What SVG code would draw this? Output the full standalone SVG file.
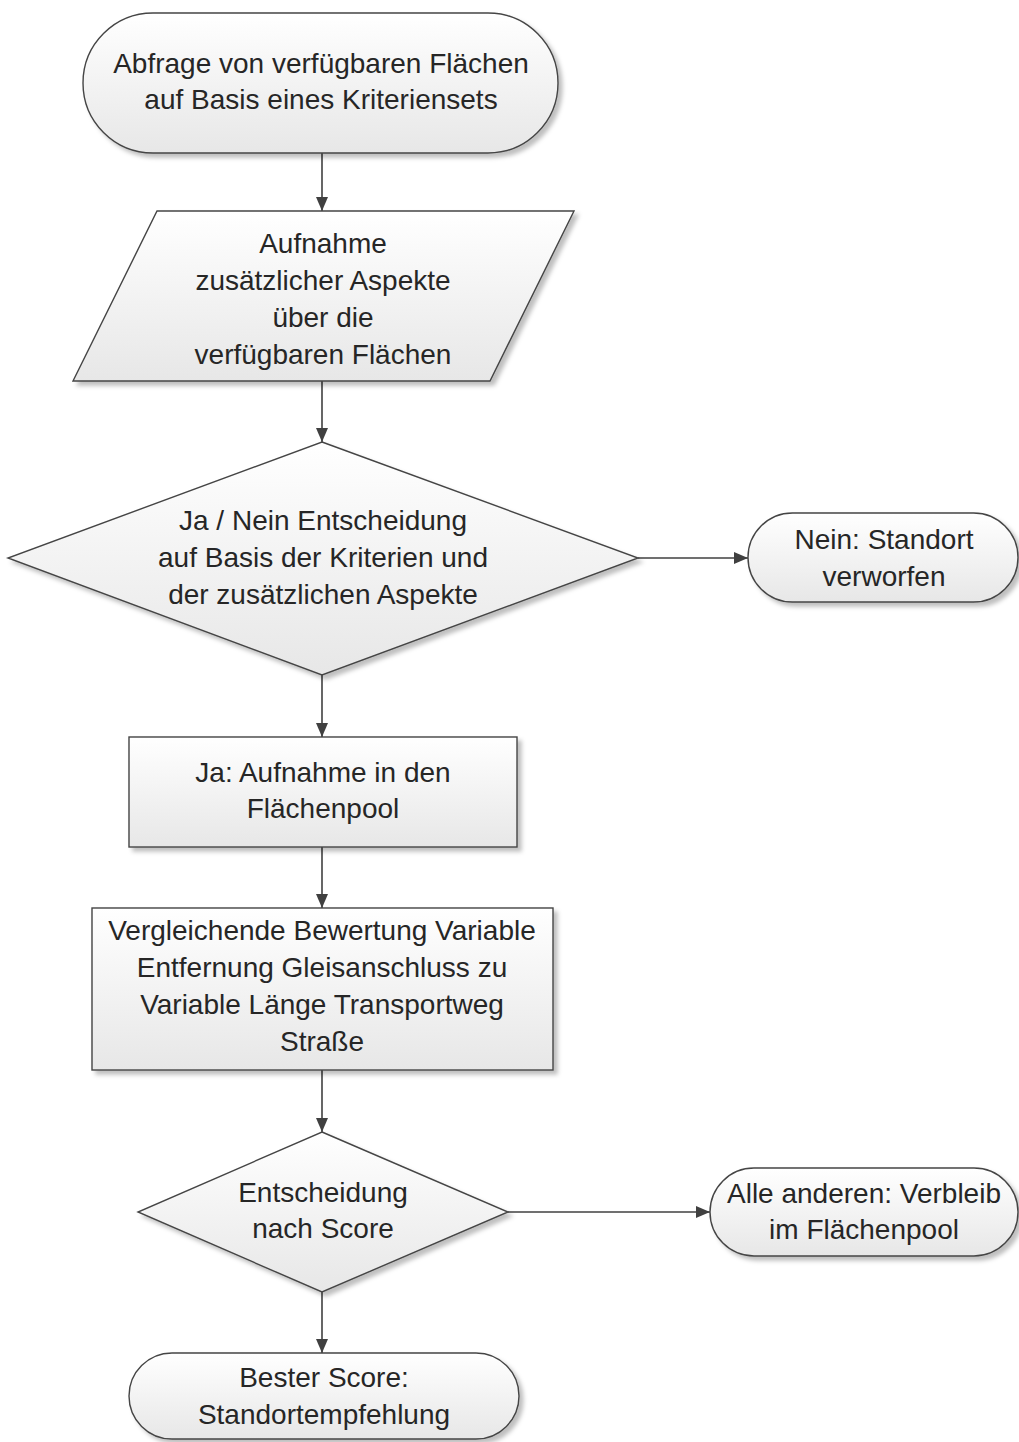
<svg xmlns="http://www.w3.org/2000/svg" width="1019" height="1442" viewBox="0 0 1019 1442">
<defs>
  <linearGradient id="fill" x1="0" y1="0" x2="0" y2="1">
    <stop offset="0" stop-color="#ffffff"/>
    <stop offset="1" stop-color="#e7e7e7"/>
  </linearGradient>
  <filter id="shadow" x="-10%" y="-10%" width="125%" height="135%">
    <feDropShadow dx="4" dy="4" stdDeviation="2" flood-color="#000000" flood-opacity="0.25"/>
  </filter>
  <marker id="arrow" markerUnits="userSpaceOnUse" markerWidth="14" markerHeight="12" viewBox="0 0 14 12" refX="14" refY="6" orient="auto">
    <path d="M0,0 L14,6 L0,12 z" fill="#404040"/>
  </marker>
</defs>
<style>
  .shape{fill:url(#fill);stroke:#454545;stroke-width:1.4;filter:url(#shadow)}
  .lbl{font-family:"Liberation Sans",Arial,sans-serif;font-size:28px;fill:#262626;text-anchor:middle}
  .conn{stroke:#404040;stroke-width:1.6;fill:none;marker-end:url(#arrow)}
</style>
<rect width="1019" height="1442" fill="#ffffff"/>

<g id="connectors">
  <path class="conn" d="M322,153 V211"/>
  <path class="conn" d="M322,381 V442"/>
  <path class="conn" d="M638,558 H748"/>
  <path class="conn" d="M322,675 V737"/>
  <path class="conn" d="M322,847 V908"/>
  <path class="conn" d="M322,1070 V1132"/>
  <path class="conn" d="M508,1212 H710"/>
  <path class="conn" d="M322,1292 V1353"/>
</g>

<g id="start">
  <rect class="shape" x="83" y="13" width="475" height="140" rx="70" ry="70"/>
  <text class="lbl" x="321" y="73">Abfrage von verfügbaren Flächen</text>
  <text class="lbl" x="321" y="109">auf Basis eines Kriteriensets</text>
</g>

<g id="input">
  <polygon class="shape" points="157,211 574,211 490,381 73,381"/>
  <text class="lbl" x="323" y="253">Aufnahme</text>
  <text class="lbl" x="323" y="290">zusätzlicher Aspekte</text>
  <text class="lbl" x="323" y="327">über die</text>
  <text class="lbl" x="323" y="364">verfügbaren Flächen</text>
</g>

<g id="decision1">
  <polygon class="shape" points="322,442 638,558 322,675 8,558"/>
  <text class="lbl" x="323" y="530">Ja / Nein Entscheidung</text>
  <text class="lbl" x="323" y="567">auf Basis der Kriterien und</text>
  <text class="lbl" x="323" y="604">der zusätzlichen Aspekte</text>
</g>

<g id="rejected">
  <rect class="shape" x="748" y="513" width="270" height="89" rx="44.5" ry="44.5"/>
  <text class="lbl" x="884" y="549">Nein: Standort</text>
  <text class="lbl" x="884" y="586">verworfen</text>
</g>

<g id="pool">
  <rect class="shape" x="129" y="737" width="388" height="110"/>
  <text class="lbl" x="323" y="782">Ja: Aufnahme in den</text>
  <text class="lbl" x="323" y="818">Flächenpool</text>
</g>

<g id="evaluation">
  <rect class="shape" x="92" y="908" width="461" height="162"/>
  <text class="lbl" x="322" y="940">Vergleichende Bewertung Variable</text>
  <text class="lbl" x="322" y="977">Entfernung Gleisanschluss zu</text>
  <text class="lbl" x="322" y="1014">Variable Länge Transportweg</text>
  <text class="lbl" x="322" y="1051">Straße</text>
</g>

<g id="decision2">
  <polygon class="shape" points="322,1132 508,1212 322,1292 138,1212"/>
  <text class="lbl" x="323" y="1202">Entscheidung</text>
  <text class="lbl" x="323" y="1238">nach Score</text>
</g>

<g id="others">
  <rect class="shape" x="710" y="1168" width="308" height="88" rx="44" ry="44"/>
  <text class="lbl" x="864" y="1203">Alle anderen: Verbleib</text>
  <text class="lbl" x="864" y="1239">im Flächenpool</text>
</g>

<g id="best">
  <rect class="shape" x="129" y="1353" width="390" height="86" rx="43" ry="43"/>
  <text class="lbl" x="324" y="1387">Bester Score:</text>
  <text class="lbl" x="324" y="1424">Standortempfehlung</text>
</g>
</svg>
